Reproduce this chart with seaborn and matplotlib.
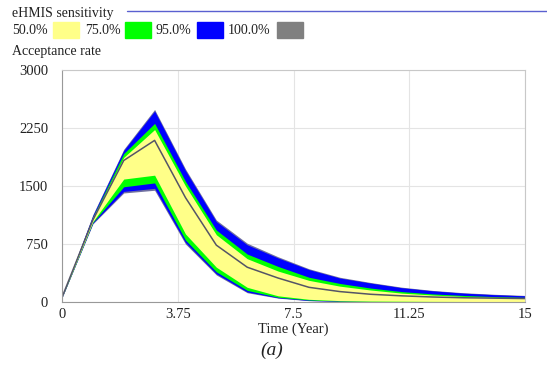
import numpy as np
import pandas as pd
import matplotlib
matplotlib.use("Agg")
import matplotlib.pyplot as plt
import seaborn as sns

# sensitivity bands (yearly points)
years = list(range(16))
gray_hi = [65, 1130, 1975, 2490, 1720, 1060, 760, 585, 430, 320, 252, 192, 150, 120, 100, 85]
blue_hi = [62, 1120, 1960, 2470, 1700, 1040, 740, 570, 420, 310, 245, 185, 145, 115, 95, 80]
green_hi = [60, 1100, 1920, 2310, 1560, 930, 620, 460, 320, 240, 180, 135, 105, 85, 70, 60]
yellow_hi = [60, 1090, 1870, 2230, 1500, 870, 560, 400, 280, 205, 155, 115, 90, 72, 60, 52]
median = [60, 1060, 1830, 2090, 1350, 735, 450, 310, 190, 135, 100, 80, 65, 55, 50, 45]
yellow_lo = [60, 1040, 1590, 1640, 880, 450, 190, 80, 35, 18, 12, 10, 8, 7, 6, 6]
green_lo = [58, 1030, 1490, 1540, 800, 390, 150, 62, 26, 12, 8, 6, 5, 4, 4, 4]
blue_lo = [56, 1020, 1430, 1470, 770, 365, 130, 55, 20, 9, 6, 4, 3, 3, 3, 3]
gray_lo = [55, 1010, 1410, 1445, 750, 350, 120, 50, 17, 7, 4, 3, 2, 2, 2, 2]

legend_labels = ["50.0%", "75.0%", "95.0%", "100.0%"]
band_colors = ["#ffff88", "#00ff00", "#0000ff", "#808080"]

x_ticks = [0, 3.75, 7.5, 11.25, 15]
y_ticks = [0, 750, 1500, 2250, 3000]

sns.set_theme(style="whitegrid")
plt.rcParams["font.family"] = ["Liberation Serif", "DejaVu Serif"]

fig = plt.figure(figsize=(5.47, 3.73), dpi=100)
ax = fig.add_axes([0.1133, 0.1903, 0.8467, 0.622])

# outer to inner bands
ax.fill_between(years, gray_lo, gray_hi, color="#7070a0", lw=0)
ax.fill_between(years, blue_lo, blue_hi, color=band_colors[2], lw=0)
ax.fill_between(years, green_lo, green_hi, color=band_colors[1], lw=0)
ax.fill_between(years, yellow_lo, yellow_hi, color=band_colors[0], lw=0)

df = pd.DataFrame({"year": years, "median": median})
sns.lineplot(data=df, x="year", y="median", ax=ax, color="#555566", lw=1.1)

ax.set_xlim(0, 15)
ax.set_ylim(0, 3000)
ax.set_xticks(x_ticks)
ax.set_xticklabels(["0", "3.75", "7.5", "11.25", "15"])
ax.set_yticks(y_ticks)
ax.set_yticklabels([str(v) for v in y_ticks])
ax.tick_params(labelsize=10.5, colors="#222222", length=0)
ax.tick_params(axis="y", pad=10)
ax.tick_params(axis="x", pad=4)
ax.grid(True, color="#e4e4e4", lw=0.8)
for s in ax.spines.values():
    s.set_color("#c8c8c8")
    s.set_linewidth(0.8)
ax.spines["left"].set_color("#999999")
ax.spines["bottom"].set_color("#999999")
ax.set_xlabel("Time (Year)", fontsize=10.5, color="#222222", labelpad=1.5)
ax.set_ylabel("")

# header texts (Vensim style)
W, H = 547, 373
def fx(px):
    return px / W
def fy(py):
    return 1 - py / H

fig.text(fx(12), fy(13), "eHMIS sensitivity", fontsize=10, va="center", ha="left", color="#222222")
fig.add_artist(plt.Line2D([fx(127), 1.0], [fy(11), fy(11)], color="#5a60d0", lw=1.0))

label_x = [12, 85, 155, 228]
swatch_x = [53, 125, 197, 277]
for lx, sx, lab, col in zip(label_x, swatch_x, legend_labels, band_colors):
    fig.text(fx(lx), fy(31), lab, fontsize=10, va="center", ha="left", color="#222222")
    fig.add_artist(plt.Rectangle((fx(sx), fy(38)), 26 / W, 16 / H, color=col,
                                 transform=fig.transFigure))

fig.text(fx(12), fy(51), "Acceptance rate", fontsize=10, va="center", ha="left", color="#222222")
fig.text(fx(272), fy(350), "(a)", fontsize=14, style="italic", va="center", ha="center", color="#222222")

fig.savefig("out.png", dpi=100)
